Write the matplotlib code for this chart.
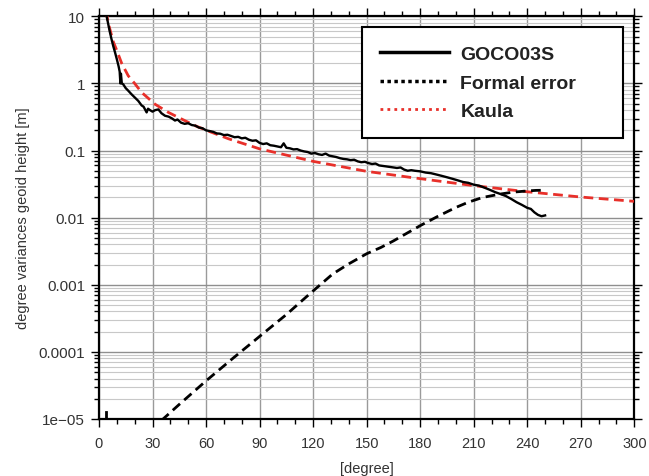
import matplotlib
matplotlib.use("Agg")
import matplotlib.pyplot as plt
from matplotlib.lines import Line2D
from matplotlib.ticker import FixedLocator, FixedFormatter, LogLocator, NullFormatter, MultipleLocator

plt.rcParams["font.family"] = ["Liberation Sans", "DejaVu Sans"]

# ─── data ──────────────────────────────────────
goco_deg = [4.3, 6, 7, 8, 9, 10, 11, 11.6, 12.0, 12.3, 12.8, 13.6, 15, 16.4, 18, 20, 22,
            23.9, 25, 26.7, 27.5, 28.6, 30, 31.5, 33.3, 35, 37, 39, 41, 42.6, 44, 46,
            48, 50, 52, 54, 56, 58, 60, 62, 64, 66, 68, 70, 72, 74, 76, 78, 80, 82,
            84, 86, 88, 90, 92, 94, 96, 98, 100, 102, 103.5, 105, 107, 109, 111, 113,
            115, 117, 119, 121, 123, 125, 127, 129, 131, 133, 135, 137, 139, 141, 143,
            145, 147, 149, 151, 153, 155, 157, 159, 161, 163, 165, 167, 169, 171, 173,
            175, 177, 180, 183, 186, 189, 192, 195, 198, 201, 204, 207, 210, 213, 216,
            219, 222, 225, 228, 231, 234, 237, 240, 242, 244, 246, 248, 250]
goco_val = [10, 6.0, 4.6, 3.6, 2.9, 2.3, 1.8, 1.5, 1.0, 1.4, 1.0, 0.97, 0.85, 0.78, 0.70,
            0.62, 0.55, 0.47, 0.45, 0.37, 0.42, 0.40, 0.38, 0.40, 0.41, 0.36, 0.33, 0.32,
            0.30, 0.28, 0.29, 0.26, 0.25, 0.255, 0.24, 0.235, 0.22, 0.215, 0.20, 0.195,
            0.19, 0.18, 0.178, 0.17, 0.172, 0.165, 0.158, 0.16, 0.152, 0.155, 0.145,
            0.14, 0.142, 0.13, 0.125, 0.128, 0.12, 0.118, 0.115, 0.112, 0.128, 0.11,
            0.108, 0.104, 0.105, 0.10, 0.097, 0.095, 0.09, 0.092, 0.088, 0.086, 0.09,
            0.084, 0.082, 0.08, 0.077, 0.075, 0.074, 0.072, 0.073, 0.069, 0.067, 0.068,
            0.065, 0.063, 0.064, 0.06, 0.059, 0.058, 0.057, 0.056, 0.055, 0.056, 0.052,
            0.05, 0.051, 0.05, 0.049, 0.047, 0.046, 0.044, 0.042, 0.04, 0.038, 0.036,
            0.034, 0.033, 0.031, 0.030, 0.028, 0.026, 0.024, 0.0225, 0.021, 0.019,
            0.017, 0.0155, 0.014, 0.0135, 0.012, 0.011, 0.0105, 0.0108]

err_deg = [35, 45, 60, 75, 90, 105, 117, 131, 140, 150, 158, 165, 172, 180, 190, 200,
           207, 215, 225, 232, 240, 245, 249]
err_val = [9.5e-6, 1.65e-5, 3.7e-5, 8e-5, 1.7e-4, 3.6e-4, 6.9e-4, 1.45e-3, 2.05e-3,
           2.9e-3, 3.6e-3, 4.5e-3, 5.75e-3, 7.6e-3, 0.0105, 0.0142, 0.017, 0.020,
           0.0225, 0.024, 0.025, 0.0255, 0.0256]

# short tick of the formal error at very low degree
err_low_deg = [3.8, 3.8]
err_low_val = [9e-6, 1.27e-5]

kaula_deg = [4, 5, 6, 8, 10, 12.7, 16.4, 20, 23.8, 31.4, 38.9, 46.3, 53.8, 61.3, 72.5,
             90, 120, 150, 174, 210, 240, 270, 300]
kaula_val = [12, 8.5, 6.6, 4.2, 3.1, 2.0, 1.30, 1.0, 0.74, 0.49, 0.37, 0.295, 0.235,
             0.195, 0.15, 0.106, 0.069, 0.049, 0.040, 0.030, 0.0243, 0.0203, 0.0175]

ytick_vals = [10, 1, 0.1, 0.01, 0.001, 0.0001, 1e-5]
ytick_labels = ["10", "1", "0.1", "0.01", "0.001", "0.0001", "1e\u221205"]
xtick_vals = [0, 30, 60, 90, 120, 150, 180, 210, 240, 270, 300]

# ─── figure ────────────────────────────────────
fig = plt.figure(figsize=(6.49, 4.77), dpi=100)
ax = fig.add_axes([0.1525, 0.1195, 0.8249, 0.8442])

ax.set_yscale("log")
ax.set_xlim(0, 300)
ax.set_ylim(1e-5, 10)

# grid
ax.set_axisbelow(True)
ax.yaxis.set_minor_locator(LogLocator(base=10, subs=range(2, 10)))
ax.yaxis.set_minor_formatter(NullFormatter())
ax.grid(which="minor", axis="y", color="#c8c8c8", lw=0.8)
ax.grid(which="major", axis="y", color="#8f8f8f", lw=1.0)
ax.grid(which="major", axis="x", color="#9a9a9a", lw=1.0)

kw_dash = dict(dashes=(3.5, 2))
ax.plot(kaula_deg, kaula_val, color="#e8302a", lw=2.0, **kw_dash, zorder=3)
ax.plot(err_deg, err_val, color="black", lw=2.0, **kw_dash, zorder=4)
ax.plot(err_low_deg, err_low_val, color="black", lw=2.0, zorder=4)
ax.plot(goco_deg, goco_val, color="black", lw=1.7, zorder=5)

# ticks
ax.xaxis.set_major_locator(FixedLocator(xtick_vals))
ax.xaxis.set_minor_locator(MultipleLocator(10))
ax.yaxis.set_major_locator(FixedLocator(ytick_vals))
ax.yaxis.set_major_formatter(FixedFormatter(ytick_labels))
ax.tick_params(which="both", direction="out", top=True, right=True, width=1.0, colors="black")
ax.tick_params(which="major", length=6)
ax.tick_params(which="minor", length=3.5)
ax.tick_params(axis="x", labelsize=10.5, labelcolor="#333333", pad=6)
ax.tick_params(axis="y", labelsize=11, labelcolor="#333333", pad=4)

for sp in ax.spines.values():
    sp.set_linewidth(1.6)
    sp.set_color("black")

ax.set_xlabel("[degree]", fontsize=10.5, color="#333333", labelpad=8)
ax.set_ylabel("degree variances geoid height [m]", fontsize=10.5, color="#333333", labelpad=6)

# legend (frame stretched to the box seen in the picture)
handles = [
    Line2D([], [], color="black", lw=2.5),
    Line2D([], [], color="black", lw=2.5, ls=(0, (1, 1))),
    Line2D([], [], color="#e8302a", lw=2.0, ls=(0, (1, 1.5))),
]
labels = ["GOCO03S", "Formal error", "Kaula"]
leg = ax.legend(handles, labels, loc="upper left", bbox_to_anchor=(0.491, 0.5, 0.488, 0.473),
                mode="expand", borderaxespad=0, fancybox=False, framealpha=1,
                edgecolor="black", prop={"weight": "bold", "size": 14}, handlelength=3.55,
                handletextpad=0.57, labelspacing=0.55, borderpad=0.95)
leg.get_frame().set_linewidth(1.5)
for t in leg.get_texts():
    t.set_color("#222222")

fig.savefig("out.png", dpi=100)
